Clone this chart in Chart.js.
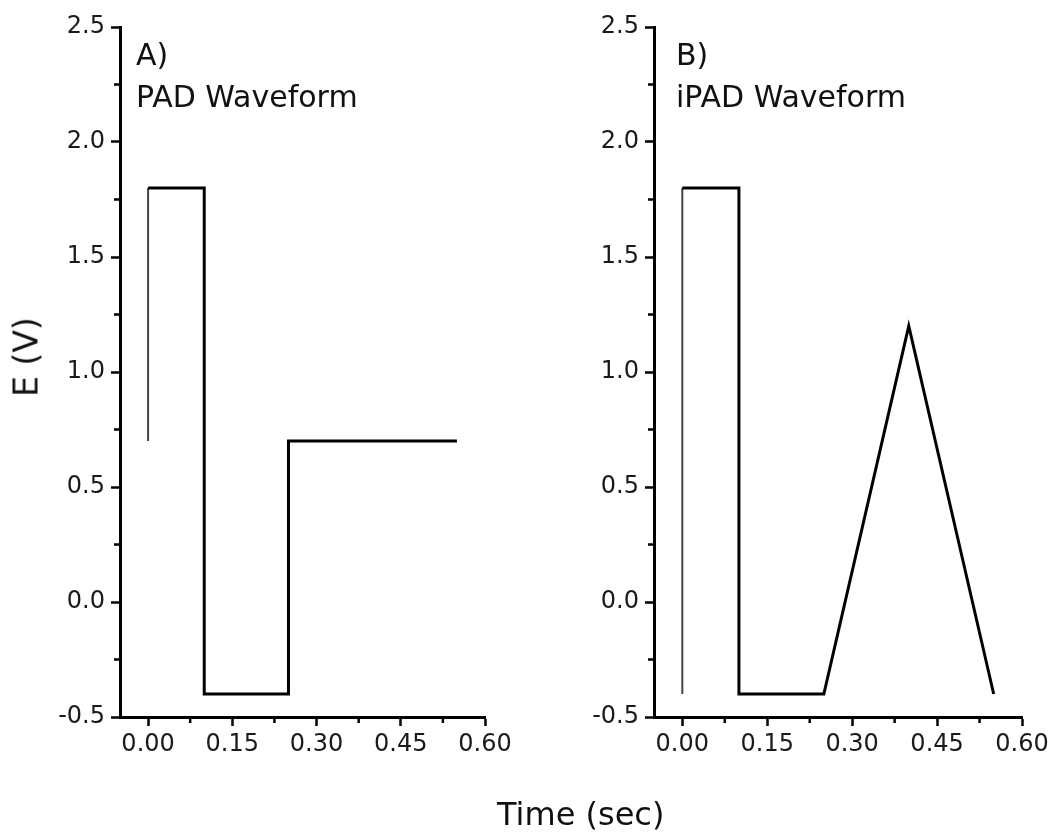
<!DOCTYPE html>
<html>
<head>
<meta charset="utf-8">
<script src="https://cdn.jsdelivr.net/npm/chart.js@4.4.0/dist/chart.umd.min.js"></script>
<style>
body { margin: 0; background: #fff; }
#wrap { position: relative; width: 1057px; height: 833px; font-family: "DejaVu Sans"; color: #111; }
.panel { position: absolute; top: 0; height: 833px; }
#left { left: 0; width: 530px; }
#right { left: 530px; width: 527px; }
#ylab { position: absolute; left: 26px; top: 357px; font-size: 33px; line-height: 33px; white-space: nowrap;
        transform: translate(-50%, -50%) rotate(-90deg); }
#xlab { position: absolute; left: 497px; top: 798px; font-size: 32px; line-height: 32px; white-space: nowrap; }
</style>
</head>
<body>
<div id="wrap">
  <div class="panel" id="left"><canvas id="padChart"></canvas></div>
  <div class="panel" id="right"><canvas id="ipadChart"></canvas></div>
  <div id="ylab">E (V)</div>
  <div id="xlab">Time (sec)</div>
</div>
<script>
// tick values
var xTicks = [0, 0.15, 0.30, 0.45, 0.60];
var xMinor = [0.075, 0.225, 0.375, 0.525];
var yTicks = [-0.5, 0, 0.5, 1.0, 1.5, 2.0, 2.5];
var yMinor = [-0.25, 0.25, 0.75, 1.25, 1.75, 2.25];

// A) PAD waveform
var padTime = [0, 0, 0.10, 0.10, 0.25, 0.25, 0.55];
var padE    = [0.7, 1.8, 1.8, -0.4, -0.4, 0.7, 0.7];

// B) iPAD waveform
var ipadTime = [0, 0, 0.10, 0.10, 0.25, 0.40, 0.55];
var ipadE    = [-0.4, 1.8, 1.8, -0.4, -0.4, 1.2, -0.4];

// minor ticks + panel labels
var extras = {
  id: 'extras',
  afterDraw: function (chart, args, opts) {
    var ctx = chart.ctx, a = chart.chartArea;
    var xs = chart.scales.x, ys = chart.scales.y;
    ctx.save();
    ctx.strokeStyle = '#000';
    ctx.lineWidth = 2.5;
    ctx.beginPath();
    xMinor.forEach(function (v) {
      var px = xs.getPixelForValue(v);
      ctx.moveTo(px, a.bottom);
      ctx.lineTo(px, a.bottom + 6);
    });
    yMinor.forEach(function (v) {
      var py = ys.getPixelForValue(v);
      ctx.moveTo(a.left, py);
      ctx.lineTo(a.left - 6, py);
    });
    ctx.stroke();
    ctx.fillStyle = '#111';
    ctx.font = '30px "DejaVu Sans"';
    ctx.textBaseline = 'alphabetic';
    opts.lines.forEach(function (t, i) {
      ctx.fillText(t, a.left + opts.dx, a.top + 38 + i * 42);
    });
    ctx.restore();
  }
};

function axisStyle() {
  return {
    grid: { drawOnChartArea: false, tickLength: 9, tickWidth: 2.5, tickColor: '#000', color: '#000' },
    border: { color: '#000', width: 3 }
  };
}

function makeChart(id, time, volts, lines, dx, axisWidth, padRight) {
  var pts = time.map(function (t, i) { return { x: t, y: volts[i] }; });
  return new Chart(document.getElementById(id), {
    type: 'line',
    data: {
      datasets: [{
        data: pts,
        borderColor: '#000',
        borderWidth: 3,
        borderJoinStyle: 'miter',
        pointRadius: 0,
        tension: 0,
        fill: false,
        segment: {
          borderColor: function (c) { return c.p0DataIndex === 0 ? '#444' : '#000'; },
          borderWidth: function (c) { return c.p0DataIndex === 0 ? 2 : 3; }
        }
      }]
    },
    options: {
      animation: false,
      responsive: true,
      maintainAspectRatio: false,
      layout: { padding: { left: 0, top: 27, right: padRight, bottom: 0 } },
      plugins: {
        legend: { display: false },
        tooltip: { enabled: false },
        extras: { lines: lines, dx: dx }
      },
      scales: {
        x: Object.assign({
          type: 'linear',
          min: -0.05,
          max: 0.6,
          afterBuildTicks: function (s) { s.ticks = xTicks.map(function (v) { return { value: v }; }); },
          afterFit: function (s) { s.height = 116; },
          ticks: {
            autoSkip: false, maxRotation: 0, padding: 4, color: '#1a1a1a',
            font: { family: 'DejaVu Sans', size: 24 },
            callback: function (v) { return Number(v).toFixed(2); }
          }
        }, axisStyle()),
        y: Object.assign({
          type: 'linear',
          min: -0.5,
          max: 2.5,
          afterBuildTicks: function (s) { s.ticks = yTicks.map(function (v) { return { value: v }; }); },
          afterFit: function (s) { s.width = axisWidth; },
          ticks: {
            padding: 6, color: '#1a1a1a',
            font: { family: 'DejaVu Sans', size: 24 },
            callback: function (v) { return Number(v).toFixed(1); }
          }
        }, axisStyle())
      }
    },
    plugins: [extras]
  });
}

makeChart('padChart', padTime, padE, ['A)', 'PAD Waveform'], 16, 120, 45);
makeChart('ipadChart', ipadTime, ipadE, ['B)', 'iPAD Waveform'], 22, 124, 35);
</script>
</body>
</html>
